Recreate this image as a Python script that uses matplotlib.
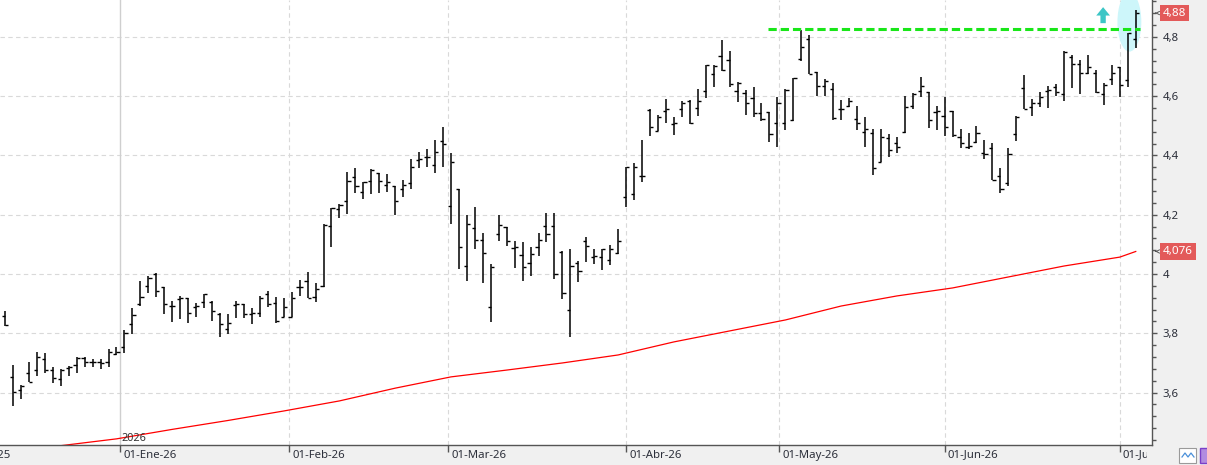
import numpy as np
import pandas as pd
import matplotlib
matplotlib.use("Agg")
import matplotlib.pyplot as plt
from matplotlib.patches import Ellipse, Rectangle
from matplotlib.ticker import MultipleLocator
from matplotlib.transforms import Bbox, TransformedBbox, ScaledTranslation

plt.rcParams["font.family"] = ["Noto Sans", "DejaVu Sans"]

# ---------------------------------------------------------------------------
# Data (daily OHLC)
# ---------------------------------------------------------------------------
FIRST_DAY = "2025-12-09"
LAST_DAY = "2026-07-03"
HOLIDAYS = ["2025-12-25", "2025-12-26", "2026-01-01",
            "2026-04-03", "2026-04-06", "2026-05-01"]

opens = [
    3.859, 3.654, 3.609, 3.666, 3.676, 3.713, 3.676, 3.645, 3.682, 3.693,
    3.718, 3.704, 3.704, 3.704, 3.730, 3.753, 3.831, 3.898, 3.960, 3.999,
    3.955, 3.893, 3.915, 3.918, 3.888, 3.905, 3.907, 3.864, 3.815, 3.895,
    3.898, 3.864, 3.867, 3.932, 3.901, 3.854, 3.856, 3.955, 3.976, 3.923,
    3.958, 4.163, 4.218, 4.246, 4.326, 4.278, 4.315, 4.340, 4.300, 4.297,
    4.286, 4.306, 4.384, 4.394, 4.368, 4.450, 4.230, 4.287, 4.027, 4.154,
    4.115, 3.888, 4.134, 4.160, 4.087, 4.064, 4.036, 4.090, 4.162, 4.162,
    4.075, 3.879, 4.038, 4.111, 4.058, 4.058, 4.047, 4.072, 4.259, 4.269,
    4.331, 4.553, 4.483, 4.550, 4.506, 4.555, 4.584, 4.559, 4.617, 4.675,
    4.735, 4.722, 4.617, 4.611, 4.593, 4.542, 4.547, 4.508, 4.508, 4.519,
    4.724, 4.792, 4.680, 4.634, 4.624, 4.555, 4.567, 4.522, 4.478, 4.475,
    4.379, 4.458, 4.443, 4.480, 4.567, 4.617, 4.615, 4.547, 4.534, 4.550,
    4.461, 4.427, 4.446, 4.407, 4.424, 4.331, 4.306, 4.472, 4.626, 4.562,
    4.576, 4.618, 4.632, 4.607, 4.731, 4.708, 4.677, 4.679, 4.607, 4.657,
    4.699, 4.654, 4.792,
]
highs = [
    3.876, 3.693, 3.626, 3.704, 3.736, 3.735, 3.687, 3.679, 3.690, 3.721,
    3.719, 3.712, 3.712, 3.746, 3.753, 3.811, 3.884, 3.976, 3.993, 4.002,
    3.956, 3.909, 3.927, 3.920, 3.901, 3.933, 3.910, 3.869, 3.865, 3.910,
    3.899, 3.884, 3.927, 3.943, 3.921, 3.918, 3.938, 3.980, 4.008, 3.969,
    4.168, 4.222, 4.235, 4.343, 4.356, 4.309, 4.353, 4.340, 4.337, 4.297,
    4.317, 4.388, 4.412, 4.421, 4.452, 4.495, 4.407, 4.287, 4.199, 4.225,
    4.137, 4.033, 4.199, 4.160, 4.111, 4.107, 4.092, 4.137, 4.205, 4.205,
    4.078, 4.084, 4.044, 4.126, 4.084, 4.084, 4.098, 4.152, 4.362, 4.375,
    4.452, 4.555, 4.536, 4.590, 4.528, 4.584, 4.587, 4.623, 4.705, 4.705,
    4.789, 4.752, 4.649, 4.621, 4.630, 4.578, 4.547, 4.598, 4.623, 4.660,
    4.823, 4.806, 4.682, 4.657, 4.643, 4.587, 4.593, 4.567, 4.531, 4.488,
    4.488, 4.471, 4.463, 4.600, 4.609, 4.665, 4.615, 4.567, 4.596, 4.550,
    4.488, 4.475, 4.499, 4.452, 4.441, 4.356, 4.424, 4.534, 4.671, 4.589,
    4.615, 4.634, 4.641, 4.752, 4.739, 4.722, 4.739, 4.688, 4.643, 4.705,
    4.699, 4.812, 4.890,
]
lows = [
    3.826, 3.556, 3.577, 3.635, 3.656, 3.667, 3.631, 3.623, 3.657, 3.667,
    3.685, 3.687, 3.679, 3.685, 3.727, 3.733, 3.797, 3.893, 3.935, 3.923,
    3.865, 3.839, 3.848, 3.834, 3.856, 3.886, 3.842, 3.787, 3.797, 3.851,
    3.853, 3.830, 3.856, 3.888, 3.834, 3.854, 3.854, 3.927, 3.918, 3.907,
    3.955, 4.092, 4.188, 4.201, 4.272, 4.252, 4.270, 4.272, 4.276, 4.199,
    4.261, 4.286, 4.356, 4.362, 4.340, 4.360, 4.168, 4.016, 3.977, 4.083,
    3.971, 3.839, 4.112, 4.095, 4.021, 3.977, 3.994, 4.062, 4.109, 3.983,
    3.916, 3.789, 3.972, 4.041, 4.034, 4.013, 4.030, 4.067, 4.227, 4.250,
    4.311, 4.465, 4.483, 4.508, 4.469, 4.528, 4.505, 4.533, 4.593, 4.632,
    4.686, 4.630, 4.581, 4.536, 4.531, 4.517, 4.446, 4.429, 4.486, 4.517,
    4.719, 4.675, 4.601, 4.601, 4.519, 4.519, 4.562, 4.486, 4.429, 4.334,
    4.379, 4.396, 4.409, 4.475, 4.555, 4.598, 4.491, 4.486, 4.465, 4.461,
    4.426, 4.421, 4.443, 4.387, 4.317, 4.272, 4.297, 4.449, 4.555, 4.533,
    4.562, 4.561, 4.600, 4.584, 4.626, 4.607, 4.675, 4.609, 4.570, 4.637,
    4.596, 4.630, 4.761,
]
closes = [
    3.828, 3.601, 3.622, 3.636, 3.719, 3.676, 3.648, 3.676, 3.687, 3.718,
    3.704, 3.704, 3.700, 3.737, 3.737, 3.800, 3.863, 3.923, 3.988, 3.943,
    3.898, 3.893, 3.918, 3.867, 3.893, 3.932, 3.875, 3.831, 3.834, 3.898,
    3.864, 3.867, 3.918, 3.898, 3.842, 3.888, 3.918, 3.957, 3.918, 3.949,
    4.165, 4.222, 4.233, 4.314, 4.298, 4.309, 4.351, 4.315, 4.311, 4.246,
    4.300, 4.362, 4.387, 4.396, 4.410, 4.438, 4.377, 4.090, 4.168, 4.115,
    4.070, 4.025, 4.165, 4.111, 4.090, 4.025, 4.066, 4.115, 4.134, 3.999,
    3.935, 4.028, 4.011, 4.095, 4.061, 4.084, 4.084, 4.111, 4.360, 4.360,
    4.331, 4.497, 4.528, 4.555, 4.508, 4.576, 4.510, 4.583, 4.705, 4.702,
    4.688, 4.641, 4.643, 4.576, 4.542, 4.522, 4.471, 4.578, 4.621, 4.660,
    4.765, 4.675, 4.634, 4.652, 4.527, 4.557, 4.583, 4.508, 4.488, 4.359,
    4.461, 4.418, 4.429, 4.564, 4.607, 4.634, 4.519, 4.550, 4.495, 4.469,
    4.443, 4.432, 4.475, 4.405, 4.317, 4.286, 4.405, 4.531, 4.555, 4.576,
    4.598, 4.620, 4.615, 4.750, 4.708, 4.679, 4.699, 4.615, 4.637, 4.677,
    4.637, 4.812, 4.880,
]

# long moving average, sampled along the curve
ma_dates = ["2025-12-09", "2025-12-18", "2025-12-31", "2026-01-12", "2026-01-21",
            "2026-01-30", "2026-02-10", "2026-02-19", "2026-03-02", "2026-03-11",
            "2026-03-20", "2026-03-31", "2026-04-13", "2026-04-22", "2026-05-04",
            "2026-05-13", "2026-05-22", "2026-06-02", "2026-06-11", "2026-06-22",
            "2026-07-01", "2026-07-03"]
ma_values = [3.400, 3.421, 3.444, 3.476, 3.506, 3.538, 3.572, 3.615, 3.653, 3.676,
             3.700, 3.727, 3.771, 3.808, 3.845, 3.892, 3.926, 3.953, 3.990, 4.027,
             4.057, 4.076]

resistance = 4.825
month_starts = ["2025-12-01", "2026-01-01", "2026-02-01", "2026-03-01",
                "2026-04-01", "2026-05-01", "2026-06-01", "2026-07-01"]
month_names = ["Dic", "Ene", "Feb", "Mar", "Abr", "May", "Jun", "Jul"]
y_ticks = [3.6, 3.8, 4.0, 4.2, 4.4, 4.6, 4.8]
last_price = 4.88
last_ma = 4.076

# ---------------------------------------------------------------------------
# Trading-day axis
# ---------------------------------------------------------------------------
cal = pd.bdate_range("2025-11-24", "2026-07-31")
cal = cal[~cal.isin(pd.to_datetime(HOLIDAYS))]
origin = cal.get_loc(pd.Timestamp(FIRST_DAY))
cal_pos = np.arange(len(cal)) - origin


def day_pos(d):
    return float(np.interp(pd.Timestamp(d).value, cal.asi8, cal_pos))


x = np.arange(len(opens))
month_pos = [day_pos(d) for d in month_starts]
ma_x = [day_pos(d) for d in ma_dates]

# ---------------------------------------------------------------------------
# Figure
# ---------------------------------------------------------------------------
BAND = "#f0f0f0"
GRID = "#d9d9d9"
AXIS = "#555555"
TXT = "#2c2f3a"
LABEL_RED = "#e35a5a"
XMIN, XMAX = -0.63, 144.04
YMIN, YMAX = 3.4233, 4.9241

W, H = 1207, 465
fig = plt.figure(figsize=(W / 100, H / 100), dpi=100)
fig.patch.set_facecolor(BAND)
ax = fig.add_axes([0, 20 / H, 1152 / W, 445 / H])
ax.set_facecolor("white")

for s in ("top", "left"):
    ax.spines[s].set_visible(False)
for s in ("right", "bottom"):
    ax.spines[s].set_color(AXIS)
    ax.spines[s].set_linewidth(1.0)

# grid
for v in y_ticks:
    ax.axhline(v, color=GRID, lw=0.8, ls=(0, (4, 3)), zorder=0)
for p in month_pos[2:]:
    ax.axvline(p, color=GRID, lw=0.8, ls=(0, (4, 3)), zorder=0)
ax.axvline(month_pos[1], color="#cfcfcf", lw=1.0, zorder=0)
ax.annotate("2026", xy=(month_pos[1], YMIN), xytext=(1, 1), textcoords="offset points",
            ha="left", va="bottom", fontsize=7.8, color="#333333")

# highlight around the last bars
ax.add_patch(Ellipse((141.2, 4.850), 3.0, 0.20, fc="#cdf6fa", ec="none", zorder=1))

# moving average
ax.plot(ma_x, ma_values, color="#ff0000", lw=0.9, zorder=2)

# OHLC bars
ax.vlines(x, lows, highs, color="black", lw=1.1, zorder=3)
ax.hlines(opens, x - 0.4, x, color="black", lw=1.0, zorder=3)
ax.hlines(closes, x, x + 0.4, color="black", lw=1.0, zorder=3)

# resistance line and breakout arrow
ax.hlines(resistance, 95.8, 142.5, color="#19e619", lw=2.2,
          linestyles=[(0, (2.7, 1.3))], zorder=4)
ax.annotate("", xy=(137.9, 4.900), xytext=(137.9, 4.846),
            arrowprops=dict(arrowstyle="simple,head_length=0.55,head_width=0.9,tail_width=0.35",
                            color="#3cc6c6", lw=0, mutation_scale=11,
                            shrinkA=0, shrinkB=0), zorder=4)

# y axis (right)
ax.yaxis.tick_right()
ax.set_yticks(y_ticks)
ax.set_yticklabels([f"{v:g}".replace(".", ",") for v in y_ticks])
ax.yaxis.set_minor_locator(MultipleLocator(0.04))
ax.tick_params(axis="y", which="major", length=3.6, width=1, color=AXIS,
               labelsize=8.2, labelcolor=TXT, pad=4)
ax.tick_params(axis="y", which="minor", length=2.9, width=1, color=AXIS)

# x axis (months)
ax.set_xticks(month_pos)
ax.set_xticklabels([])
ax.tick_params(axis="x", which="major", length=5, width=1, color=AXIS)
ax.set_xlim(XMIN, XMAX)
ax.set_ylim(YMIN, YMAX)
clip = TransformedBbox(Bbox([[0, 0], [1147 / W, 1]]), fig.transFigure)
shift = ScaledTranslation(3 / 100, -4.5 / 100, fig.dpi_scale_trans)
for p, d, name in zip(month_pos, month_starts, month_names):
    t = ax.text(p, 0, f"01-{name}-{d[2:4]}", transform=ax.get_xaxis_transform() + shift,
                ha="left", va="top", fontsize=8.2, color=TXT)
    t.set_clip_path(None)
    t.set_clip_box(clip)
    t.set_clip_on(True)

# value tags on the price scale
for val, txt in ((last_price, "4,88"), (last_ma, "4,076")):
    ax.text(1.0095, val, txt, transform=ax.get_yaxis_transform(), ha="left", va="center",
            fontsize=8.4, color="white", clip_on=False,
            bbox=dict(boxstyle="square,pad=0.25", fc=LABEL_RED, ec="none"))
    ax.annotate("", xy=(1.0003, val), xytext=(1.0055, val), xycoords=ax.get_yaxis_transform(),
                textcoords=ax.get_yaxis_transform(),
                arrowprops=dict(arrowstyle="->", color=AXIS, lw=0.7, mutation_scale=6))

# little toolbar buttons bottom right
fig.add_artist(Rectangle((1179 / W, 2 / H), 17 / W, 15 / H, transform=fig.transFigure,
                         fc="white", ec="#9a9a9a", lw=0.8))
fig.add_artist(plt.Line2D(np.array([1182, 1185, 1188, 1191, 1194]) / W,
                          np.array([8, 12, 8, 12, 8]) / H, transform=fig.transFigure,
                          color="#4a90d9", lw=0.9))
fig.add_artist(Rectangle((1200 / W, 2 / H), 10 / W, 15 / H, transform=fig.transFigure,
                         fc="#b28ce0", ec="#7a3fc8", lw=1.0))

fig.savefig("out.png", dpi=100, facecolor=BAND)
